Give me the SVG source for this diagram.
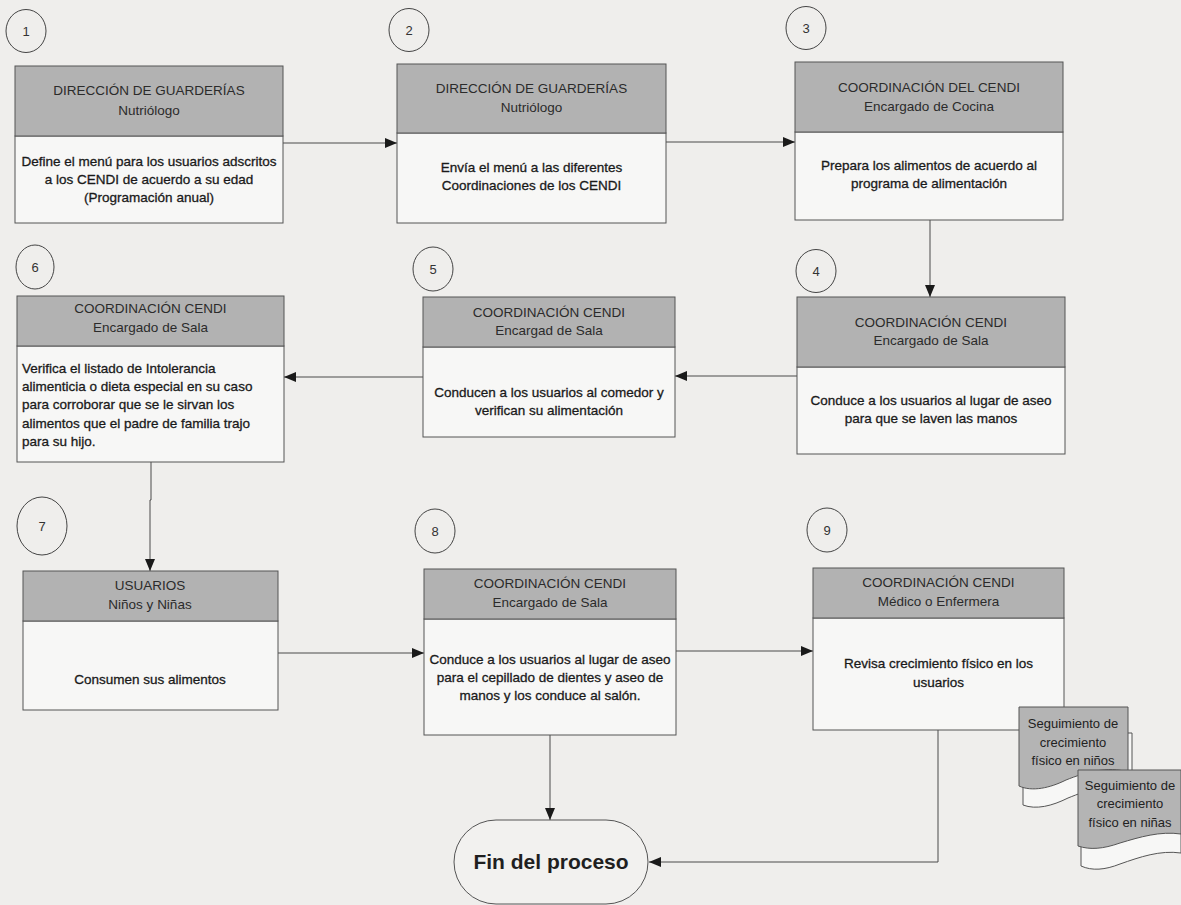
<svg xmlns="http://www.w3.org/2000/svg" width="1181" height="905" viewBox="0 0 1181 905">
  <defs>
    <marker id="arrow" viewBox="0 0 12 10" refX="12" refY="5" markerWidth="12" markerHeight="10" markerUnits="userSpaceOnUse" orient="auto">
      <path d="M0,0 L12,5 L0,10 Z" fill="#1a1a1a"/>
    </marker>
    <style>
      .hdr { fill: #b2b2b2; stroke: #555; stroke-width: 1; }
      .body { fill: #f7f7f6; stroke: #555; stroke-width: 1; }
      .num { fill: none; stroke: #444; stroke-width: 1; }
      .t { font-family: "Liberation Sans", Arial, sans-serif; font-size: 13.5px; fill: #2b2b2b; }
      .c { text-anchor: middle; }
      .b { fill: #1a1a1a; stroke: #1a1a1a; stroke-width: 0.3; }
      .n { font-family: "Liberation Sans", Arial, sans-serif; font-size: 13px; fill: #333; text-anchor: middle; }
      .doc { fill: #b4b4b4; stroke: #555; stroke-width: 1; }
      .docb { fill: #f7f7f6; stroke: #555; stroke-width: 1; }
      .dt { font-family: "Liberation Sans", Arial, sans-serif; font-size: 13px; fill: #222; text-anchor: middle; }
      .edge { fill: none; stroke: #4a4a4a; stroke-width: 1; }
    </style>
  </defs>

  <!-- paper -->
  <rect x="0" y="0" width="1181" height="905" fill="#efeeec"/>

  <!-- step numbers -->
  <g id="step-numbers">
    <ellipse class="num" cx="26" cy="31" rx="20" ry="21.5"/><text class="n" x="26" y="36">1</text>
    <ellipse class="num" cx="409" cy="30" rx="20" ry="21.5"/><text class="n" x="409" y="35">2</text>
    <ellipse class="num" cx="806" cy="28" rx="20" ry="21.5"/><text class="n" x="806" y="33">3</text>
    <ellipse class="num" cx="816" cy="271" rx="20" ry="21.5"/><text class="n" x="816" y="276">4</text>
    <ellipse class="num" cx="433" cy="269" rx="20" ry="22"/><text class="n" x="433" y="274">5</text>
    <ellipse class="num" cx="35" cy="267" rx="19" ry="22"/><text class="n" x="35" y="272">6</text>
    <ellipse class="num" cx="42" cy="526" rx="25" ry="29"/><text class="n" x="42" y="531">7</text>
    <ellipse class="num" cx="435" cy="531" rx="20" ry="22"/><text class="n" x="435" y="536">8</text>
    <ellipse class="num" cx="827" cy="530" rx="20" ry="22"/><text class="n" x="827" y="535">9</text>
  </g>

  <!-- connectors -->
  <g id="connectors">
    <line class="edge" x1="283" y1="143" x2="397" y2="143" marker-end="url(#arrow)"/>
    <line class="edge" x1="666" y1="142" x2="795" y2="142" marker-end="url(#arrow)"/>
    <line class="edge" x1="930" y1="220" x2="930" y2="297" marker-end="url(#arrow)"/>
    <line class="edge" x1="797" y1="376" x2="675" y2="376" marker-end="url(#arrow)"/>
    <line class="edge" x1="423" y1="377" x2="284" y2="377" marker-end="url(#arrow)"/>
    <polyline class="edge" points="151,462 151,500 150,500 150,571" marker-end="url(#arrow)"/>
    <line class="edge" x1="278" y1="653" x2="424" y2="653" marker-end="url(#arrow)"/>
    <line class="edge" x1="676" y1="651" x2="813" y2="651" marker-end="url(#arrow)"/>
    <line class="edge" x1="550" y1="735" x2="550" y2="820" marker-end="url(#arrow)"/>
    <polyline class="edge" points="938,730 938,862 649,862" marker-end="url(#arrow)"/>
  </g>

  <!-- 1 -->
  <g id="node-1">
    <rect class="body" x="15" y="136" width="268" height="87"/>
    <rect class="hdr" x="15" y="66" width="268" height="70"/>
    <text class="t c" x="149" y="95">DIRECCIÓN DE GUARDERÍAS</text>
    <text class="t c" x="149" y="115">Nutriólogo</text>
    <text class="t c b" x="149" y="166">Define el menú para los usuarios adscritos</text>
    <text class="t c b" x="149" y="184">a los CENDI de acuerdo a su edad</text>
    <text class="t c b" x="149" y="202">(Programación anual)</text>
  </g>

  <!-- 2 -->
  <g id="node-2">
    <rect class="body" x="397" y="133" width="269" height="90"/>
    <rect class="hdr" x="397" y="64" width="269" height="69"/>
    <text class="t c" x="531.5" y="93">DIRECCIÓN DE GUARDERÍAS</text>
    <text class="t c" x="531.5" y="112">Nutriólogo</text>
    <text class="t c b" x="531.5" y="172">Envía el menú a las diferentes</text>
    <text class="t c b" x="531.5" y="190">Coordinaciones de los CENDI</text>
  </g>

  <!-- 3 -->
  <g id="node-3">
    <rect class="body" x="795" y="132" width="268" height="88"/>
    <rect class="hdr" x="795" y="62" width="268" height="70"/>
    <text class="t c" x="929" y="92">COORDINACIÓN DEL CENDI</text>
    <text class="t c" x="929" y="111">Encargado de Cocina</text>
    <text class="t c b" x="929" y="170">Prepara los alimentos de acuerdo al</text>
    <text class="t c b" x="929" y="188">programa de alimentación</text>
  </g>

  <!-- 4 -->
  <g id="node-4">
    <rect class="body" x="797" y="367" width="268" height="87"/>
    <rect class="hdr" x="797" y="297" width="268" height="70"/>
    <text class="t c" x="931" y="327">COORDINACIÓN CENDI</text>
    <text class="t c" x="931" y="345">Encargado de Sala</text>
    <text class="t c b" x="931" y="405">Conduce a los usuarios al lugar de aseo</text>
    <text class="t c b" x="931" y="423">para que se laven las manos</text>
  </g>

  <!-- 5 -->
  <g id="node-5">
    <rect class="body" x="423" y="347" width="252" height="90"/>
    <rect class="hdr" x="423" y="297" width="252" height="50"/>
    <text class="t c" x="549" y="317">COORDINACIÓN CENDI</text>
    <text class="t c" x="549" y="335">Encargad de Sala</text>
    <text class="t c b" x="549" y="397">Conducen a los usuarios al comedor y</text>
    <text class="t c b" x="549" y="415">verifican su alimentación</text>
  </g>

  <!-- 6 -->
  <g id="node-6">
    <rect class="body" x="17" y="346" width="267" height="116"/>
    <rect class="hdr" x="17" y="296" width="267" height="50"/>
    <text class="t c" x="150.5" y="313">COORDINACIÓN CENDI</text>
    <text class="t c" x="150.5" y="332">Encargado de Sala</text>
    <text class="t b" x="22" y="373">Verifica el listado de Intolerancia</text>
    <text class="t b" x="22" y="391">alimenticia o dieta especial en su caso</text>
    <text class="t b" x="22" y="409">para corroborar que se le sirvan los</text>
    <text class="t b" x="22" y="428">alimentos que el padre de familia trajo</text>
    <text class="t b" x="22" y="446">para su hijo.</text>
  </g>

  <!-- 7 -->
  <g id="node-7">
    <rect class="body" x="23" y="621" width="255" height="89"/>
    <rect class="hdr" x="23" y="571" width="255" height="50"/>
    <text class="t c" x="150" y="590">USUARIOS</text>
    <text class="t c" x="150" y="609">Niños y Niñas</text>
    <text class="t c b" x="150" y="684">Consumen sus alimentos</text>
  </g>

  <!-- 8 -->
  <g id="node-8">
    <rect class="body" x="424" y="619" width="252" height="116"/>
    <rect class="hdr" x="424" y="569" width="252" height="50"/>
    <text class="t c" x="550" y="588">COORDINACIÓN CENDI</text>
    <text class="t c" x="550" y="607">Encargado de Sala</text>
    <text class="t c b" x="550" y="664">Conduce a los usuarios al lugar de aseo</text>
    <text class="t c b" x="550" y="682">para el cepillado de dientes y aseo de</text>
    <text class="t c b" x="550" y="700">manos y los conduce al salón.</text>
  </g>

  <!-- 9 -->
  <g id="node-9">
    <rect class="body" x="813" y="618" width="251" height="112"/>
    <rect class="hdr" x="813" y="568" width="251" height="50"/>
    <text class="t c" x="938.5" y="587">COORDINACIÓN CENDI</text>
    <text class="t c" x="938.5" y="606">Médico o Enfermera</text>
    <text class="t c b" x="938.5" y="668">Revisa crecimiento físico en los</text>
    <text class="t c b" x="938.5" y="687">usuarios</text>
  </g>

  <!-- growth record, boys (stacked documents) -->
  <g id="doc-ninos">
    <path class="docb" d="M1023,733 L1132,733 L1132,788 C1110,782 1088,790 1068,798 C1052,806 1036,810 1023,805 Z"/>
    <path class="doc" d="M1019,707 L1128,707 L1128,772 C1108,766 1086,772 1066,780 C1050,788 1032,792 1019,786 Z"/>
    <text class="dt" x="1073" y="728">Seguimiento de</text>
    <text class="dt" x="1073" y="747">crecimiento</text>
    <text class="dt" x="1073" y="765">físico en niños</text>
  </g>

  <!-- growth record, girls (stacked documents) -->
  <g id="doc-ninas">
    <path class="docb" d="M1081,795 L1181,795 L1181,853 C1160,850 1140,857 1120,864 C1105,870 1092,871 1081,866 Z"/>
    <path class="doc" d="M1078,770 L1181,770 L1181,834 C1160,831 1140,837 1120,843 C1103,849 1090,850 1078,846 Z"/>
    <text class="dt" x="1130" y="790">Seguimiento de</text>
    <text class="dt" x="1130" y="808">crecimiento</text>
    <text class="dt" x="1130" y="827">físico en niñas</text>
  </g>

  <!-- end terminator -->
  <g id="node-end">
    <rect x="454" y="820" width="194" height="84" rx="42" ry="42" fill="#f2f1ef" stroke="#555" stroke-width="1"/>
    <text x="551" y="869" text-anchor="middle" font-family="Liberation Sans, Arial, sans-serif" font-size="21" font-weight="bold" fill="#1f1f1f">Fin del proceso</text>
  </g>
</svg>
